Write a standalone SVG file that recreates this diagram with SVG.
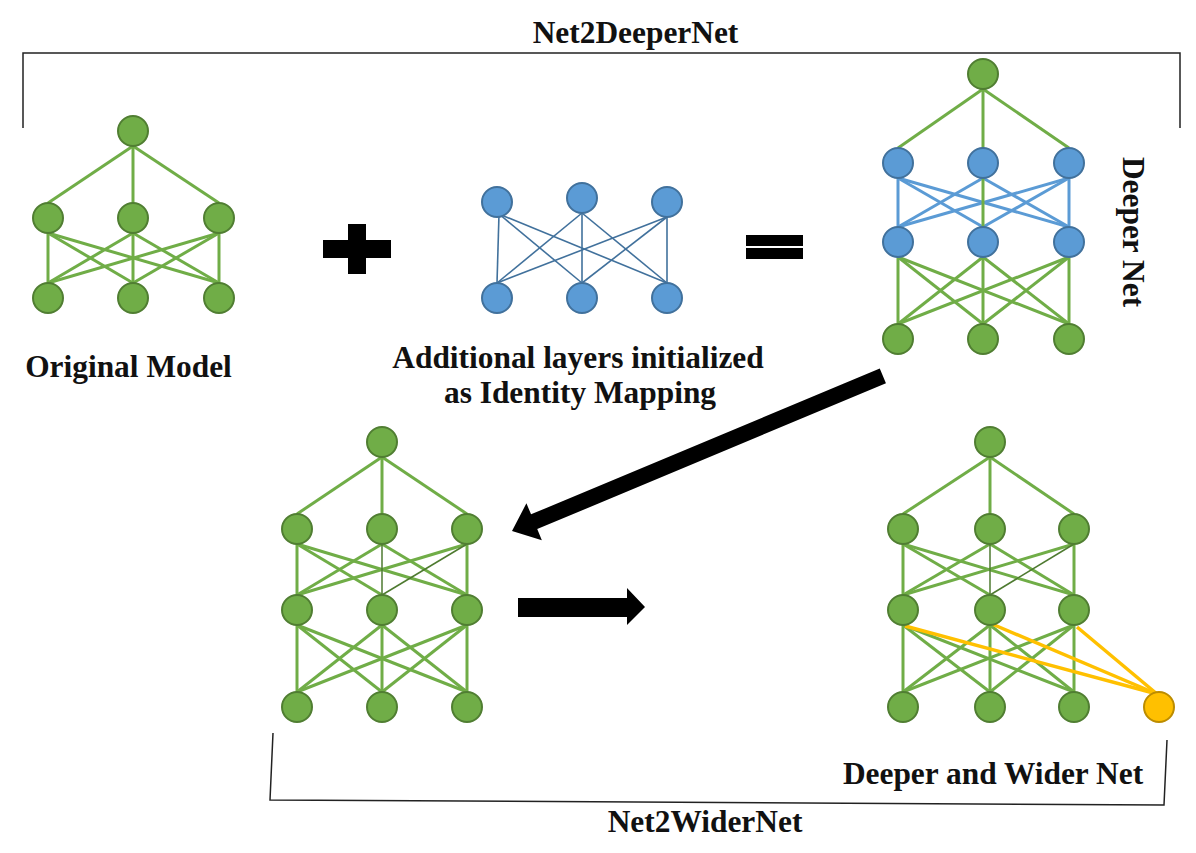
<svg xmlns="http://www.w3.org/2000/svg" width="1196" height="853" viewBox="0 0 1196 853">
<style>
.g{fill:#70ad47;stroke:#507e32;stroke-width:2}
.b{fill:#5b9bd5;stroke:#41719c;stroke-width:2}
.y{fill:#ffc000;stroke:#bc8c00;stroke-width:2}
.eg{stroke:#70ad47;stroke-width:3;fill:none}
.ed{stroke:#4e7a30;stroke-width:1.5;fill:none}
.eb{stroke:#5b9bd5;stroke-width:3;fill:none}
.et{stroke:#41719c;stroke-width:1.6;fill:none}
.ey{stroke:#ffc000;stroke-width:3.5;fill:none}
.br{stroke:#222;stroke-width:1.5;fill:none}
.t{font-family:"Liberation Serif","Times New Roman",serif;font-weight:bold;font-size:31.4px;fill:#111;text-anchor:middle}
</style>
<rect width="1196" height="853" fill="#fff"/>
<g id="brackets">
<polyline class="br" points="23,128 23,53 1180,53 1180,128"/>
<polyline class="br" points="273,733 270,800 1164,805 1167,740"/>
</g>
<g id="labels">
<text class="t" x="635.5" y="43">Net2DeeperNet</text>
<text class="t" x="128.5" y="377">Original Model</text>
<text class="t" x="578" y="368">Additional layers initialized</text>
<text class="t" x="580" y="403">as Identity Mapping</text>
<text class="t" transform="translate(1123,232) rotate(90)" x="0" y="0">Deeper Net</text>
<text class="t" x="705" y="832">Net2WiderNet</text>
<text class="t" x="993" y="784">Deeper and Wider Net</text>
</g>
<g id="symbols">
<path d="M323,240H348V224H366V240H391V258H366V274H348V258H323Z" fill="#000"/>
<rect x="746" y="235" width="57" height="11" fill="#000"/>
<rect x="746" y="248" width="57" height="11" fill="#000"/>
</g>
<g id="connectors">
<!-- Original model -->
<g class="eg">
<line x1="133" y1="146" x2="48" y2="203"/><line x1="133" y1="146" x2="133" y2="203"/><line x1="133" y1="146" x2="219" y2="203"/>
<line x1="48" y1="233" x2="48" y2="283"/><line x1="48" y1="233" x2="133" y2="283"/><line x1="48" y1="233" x2="219" y2="283"/>
<line x1="133" y1="233" x2="48" y2="283"/><line x1="133" y1="233" x2="133" y2="283"/><line x1="133" y1="233" x2="219" y2="283"/>
<line x1="219" y1="233" x2="48" y2="283"/><line x1="219" y1="233" x2="133" y2="283"/><line x1="219" y1="233" x2="219" y2="283"/>
</g>
<!-- Additional layers -->
<g class="et">
<line x1="499" y1="214" x2="497" y2="283"/><line x1="499" y1="214" x2="582" y2="283"/><line x1="499" y1="214" x2="667" y2="283"/>
<line x1="582" y1="213" x2="497" y2="283"/><line x1="582" y1="213" x2="582" y2="283"/><line x1="582" y1="213" x2="667" y2="283"/>
<line x1="667" y1="217" x2="497" y2="283"/><line x1="667" y1="217" x2="582" y2="283"/><line x1="667" y1="217" x2="667" y2="283"/>
</g>
<!-- Deeper net -->
<g class="eg">
<line x1="983" y1="89" x2="898" y2="148"/><line x1="983" y1="89" x2="983" y2="148"/><line x1="983" y1="89" x2="1069" y2="148"/>
</g>
<g class="eb">
<line x1="898" y1="178" x2="898" y2="227"/><line x1="898" y1="178" x2="983" y2="227"/><line x1="898" y1="178" x2="1069" y2="227"/>
<line x1="983" y1="178" x2="898" y2="227"/><line x1="983" y1="178" x2="1069" y2="227"/>
<line x1="1069" y1="178" x2="898" y2="227"/><line x1="1069" y1="178" x2="983" y2="227"/><line x1="1069" y1="178" x2="1069" y2="227"/>
</g>
<line class="eg" x1="983" y1="178" x2="983" y2="227"/>
<g class="eg">
<line x1="898" y1="257" x2="898" y2="324"/><line x1="898" y1="257" x2="983" y2="324"/><line x1="898" y1="257" x2="1069" y2="324"/>
<line x1="983" y1="257" x2="898" y2="324"/><line x1="983" y1="257" x2="983" y2="324"/><line x1="983" y1="257" x2="1069" y2="324"/>
<line x1="1069" y1="257" x2="898" y2="324"/><line x1="1069" y1="257" x2="983" y2="324"/><line x1="1069" y1="257" x2="1069" y2="324"/>
</g>
<!-- Bottom-left net -->
<g class="eg">
<line x1="382" y1="457" x2="297" y2="514"/><line x1="382" y1="457" x2="382" y2="514"/><line x1="382" y1="457" x2="467" y2="514"/>
<line x1="297" y1="544" x2="297" y2="595"/><line x1="297" y1="544" x2="382" y2="595"/><line x1="297" y1="544" x2="467" y2="595"/>
<line x1="382" y1="544" x2="297" y2="595"/><line x1="382" y1="544" x2="467" y2="595"/>
<line x1="467" y1="544" x2="297" y2="595"/><line x1="467" y1="544" x2="467" y2="595"/>
<line x1="297" y1="625" x2="297" y2="692"/><line x1="297" y1="625" x2="382" y2="692"/><line x1="297" y1="625" x2="467" y2="692"/>
<line x1="382" y1="625" x2="297" y2="692"/><line x1="382" y1="625" x2="382" y2="692"/><line x1="382" y1="625" x2="467" y2="692"/>
<line x1="467" y1="625" x2="297" y2="692"/><line x1="467" y1="625" x2="382" y2="692"/><line x1="467" y1="625" x2="467" y2="692"/>
</g>
<g class="ed">
<line x1="382" y1="544" x2="382" y2="595"/><line x1="467" y1="544" x2="382" y2="595"/>
</g>
<!-- Bottom-right net -->
<g class="eg">
<line x1="990" y1="457" x2="903" y2="514"/><line x1="990" y1="457" x2="990" y2="514"/><line x1="990" y1="457" x2="1074" y2="514"/>
<line x1="903" y1="544" x2="903" y2="595"/><line x1="903" y1="544" x2="990" y2="595"/><line x1="903" y1="544" x2="1074" y2="595"/>
<line x1="990" y1="544" x2="903" y2="595"/><line x1="990" y1="544" x2="1074" y2="595"/>
<line x1="1074" y1="544" x2="903" y2="595"/><line x1="1074" y1="544" x2="1074" y2="595"/>
<line x1="903" y1="625" x2="903" y2="692"/><line x1="903" y1="625" x2="990" y2="692"/><line x1="903" y1="625" x2="1074" y2="692"/>
<line x1="990" y1="625" x2="903" y2="692"/><line x1="990" y1="625" x2="990" y2="692"/><line x1="990" y1="625" x2="1074" y2="692"/>
<line x1="1074" y1="625" x2="903" y2="692"/><line x1="1074" y1="625" x2="990" y2="692"/><line x1="1074" y1="625" x2="1074" y2="692"/>
</g>
<g class="ed">
<line x1="990" y1="544" x2="990" y2="595"/><line x1="1074" y1="544" x2="990" y2="595"/>
</g>
<g class="ey">
<line x1="905" y1="626" x2="1157" y2="694"/><line x1="992" y1="624" x2="1157" y2="694"/><line x1="1077" y1="627" x2="1157" y2="694"/>
</g>
<!-- Big arrows -->
<polygon transform="translate(512,531) rotate(-22.7)" points="0,0 24,-20 24,-8 402,-8 402,8 24,8 24,20" fill="#000"/>
<polygon points="518,598 627,598 627,588 645,607 627,625 627,617 518,617" fill="#000"/>
</g>
<g id="original-model">
<circle id="om-t" class="g" cx="133" cy="131" r="15"/>
<circle id="om-m1" class="g" cx="48" cy="218" r="15"/><circle id="om-m2" class="g" cx="133" cy="218" r="15"/><circle id="om-m3" class="g" cx="219" cy="218" r="15"/>
<circle id="om-b1" class="g" cx="48" cy="298" r="15"/><circle id="om-b2" class="g" cx="133" cy="298" r="15"/><circle id="om-b3" class="g" cx="219" cy="298" r="15"/>
</g>
<g id="additional-layers">
<circle id="al-t1" class="b" cx="497" cy="202" r="15"/><circle id="al-t2" class="b" cx="582" cy="198" r="15"/><circle id="al-t3" class="b" cx="667" cy="202" r="15"/>
<circle id="al-b1" class="b" cx="497" cy="298" r="15"/><circle id="al-b2" class="b" cx="582" cy="298" r="15"/><circle id="al-b3" class="b" cx="667" cy="298" r="15"/>
</g>
<g id="deeper-net">
<circle id="dn-t" class="g" cx="983" cy="74" r="15"/>
<circle id="dn-a1" class="b" cx="898" cy="163" r="15"/><circle id="dn-a2" class="b" cx="983" cy="163" r="15"/><circle id="dn-a3" class="b" cx="1069" cy="163" r="15"/>
<circle id="dn-c1" class="b" cx="898" cy="242" r="15"/><circle id="dn-c2" class="b" cx="983" cy="242" r="15"/><circle id="dn-c3" class="b" cx="1069" cy="242" r="15"/>
<circle id="dn-b1" class="g" cx="898" cy="339" r="15"/><circle id="dn-b2" class="g" cx="983" cy="339" r="15"/><circle id="dn-b3" class="g" cx="1069" cy="339" r="15"/>
</g>
<g id="net-left">
<circle id="nl-t" class="g" cx="382" cy="442" r="15"/>
<circle id="nl-a1" class="g" cx="297" cy="529" r="15"/><circle id="nl-a2" class="g" cx="382" cy="529" r="15"/><circle id="nl-a3" class="g" cx="467" cy="529" r="15"/>
<circle id="nl-c1" class="g" cx="297" cy="610" r="15"/><circle id="nl-c2" class="g" cx="382" cy="610" r="15"/><circle id="nl-c3" class="g" cx="467" cy="610" r="15"/>
<circle id="nl-b1" class="g" cx="297" cy="707" r="15"/><circle id="nl-b2" class="g" cx="382" cy="707" r="15"/><circle id="nl-b3" class="g" cx="467" cy="707" r="15"/>
</g>
<g id="net-right">
<circle id="nr-t" class="g" cx="990" cy="442" r="15"/>
<circle id="nr-a1" class="g" cx="903" cy="529" r="15"/><circle id="nr-a2" class="g" cx="990" cy="529" r="15"/><circle id="nr-a3" class="g" cx="1074" cy="529" r="15"/>
<circle id="nr-c1" class="g" cx="903" cy="610" r="15"/><circle id="nr-c2" class="g" cx="990" cy="610" r="15"/><circle id="nr-c3" class="g" cx="1074" cy="610" r="15"/>
<circle id="nr-b1" class="g" cx="903" cy="707" r="15"/><circle id="nr-b2" class="g" cx="990" cy="707" r="15"/><circle id="nr-b3" class="g" cx="1074" cy="707" r="15"/>
<circle id="nr-new" class="y" cx="1159" cy="707" r="15"/>
</g>
</svg>
